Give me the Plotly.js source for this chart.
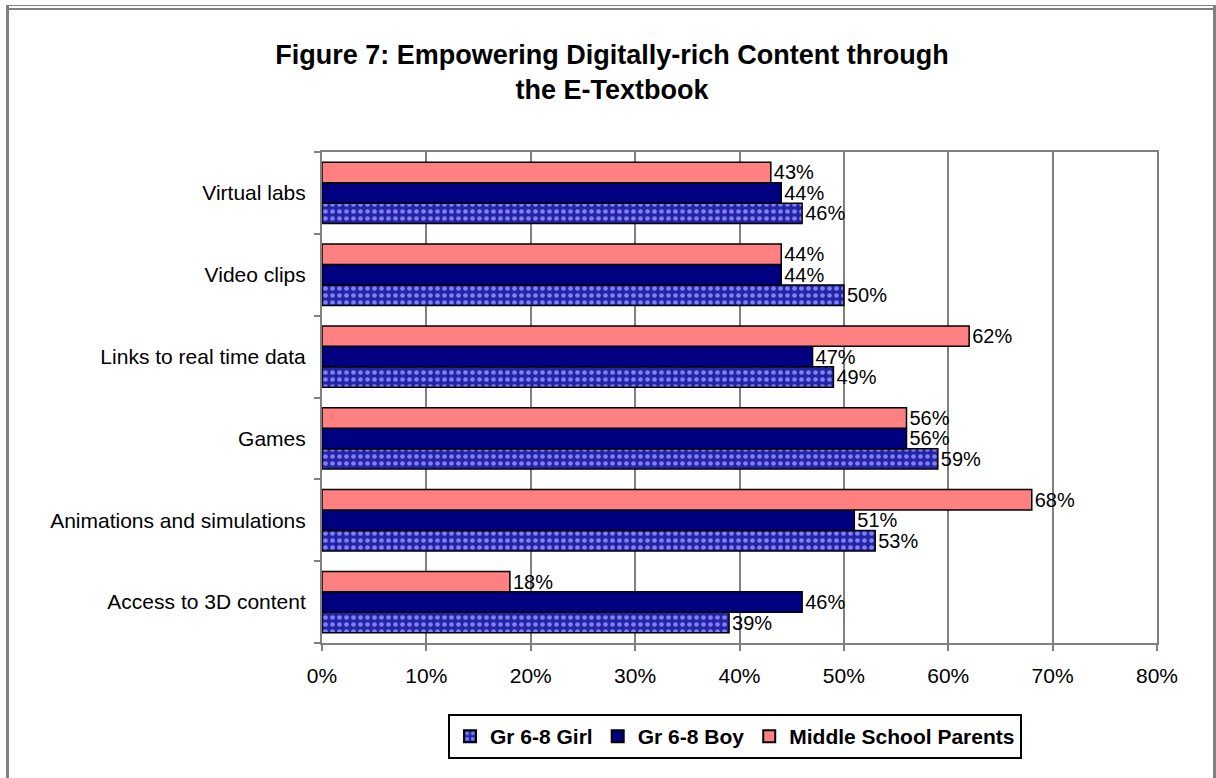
<!DOCTYPE html>
<html>
<head>
<meta charset="utf-8">
<script src="https://cdn.plot.ly/plotly-3.0.1.min.js"></script>
<style>
  html, body { margin: 0; padding: 0; background: #fff; }
  #wrap { position: relative; width: 1216px; height: 778px; }
  #chart { position: absolute; left: 0; top: 0; width: 1216px; height: 778px; }
  .b { position: absolute; background: #808080; pointer-events: none; }
</style>
</head>
<body>
<div id="wrap">
  <div id="chart"></div>
  <div class="b" style="left:6px; top:5px; width:1210px; height:1px;"></div>
  <div class="b" style="left:6px; top:8px; width:1210px; height:2px;"></div>
  <div class="b" style="left:6px; top:5px; width:3px; height:773px;"></div>
  <div class="b" style="left:1213px; top:5px; width:3px; height:773px;"></div>
</div>
<script>
const categories = ["Access to 3D content", "Animations and simulations", "Games", "Links to real time data", "Video clips", "Virtual labs"];
const girl = [39, 53, 59, 49, 50, 46];
const boy = [46, 51, 56, 47, 44, 44];
const parents = [18, 68, 56, 62, 44, 43];
const seriesNames = ["Gr 6-8 Girl", "Gr 6-8 Boy", "Middle School Parents"];
const xTicks = [0, 10, 20, 30, 40, 50, 60, 70, 80];

const FONT = "Liberation Sans, Arial, sans-serif";
const labelFont = {family: FONT, size: 20, color: "#000"};
function barTrace(name, vals, marker) {
  return {
    type: "bar", orientation: "h", name: name,
    y: categories, x: vals,
    marker: marker,
    text: vals.map(v => v + "%"),
    textposition: "outside",
    constraintext: "none",
    cliponaxis: false,
    textfont: labelFont,
    hoverinfo: "x+y"
  };
}

const data = [
  barTrace(seriesNames[0], girl, {
    color: "#2424a8",
    line: {color: "#000", width: 1.5},
    pattern: {shape: ".", bgcolor: "#2424a8", fgcolor: "#8080f0", size: 7, solidity: 0.35}
  }),
  barTrace(seriesNames[1], boy, {color: "#000080", line: {color: "#000", width: 1.5}}),
  barTrace(seriesNames[2], parents, {color: "#ff8080", line: {color: "#000", width: 1.5}})
];

const layout = {
  width: 1216, height: 778,
  paper_bgcolor: "rgba(0,0,0,0)", plot_bgcolor: "#fff",
  margin: {l: 322, r: 59, t: 152, b: 135},
  font: {family: FONT, color: "#000"},
  title: {
    text: "<b>Figure 7: Empowering Digitally-rich Content through<br>the E-Textbook</b>",
    font: {size: 27, family: FONT, color: "#000"},
    x: 612 / 1216, xref: "container", xanchor: "center",
    y: 1 - 64 / 778, yref: "container", yanchor: "top"
  },
  barmode: "group",
  bargap: 0.25, bargroupgap: 0,
  xaxis: {
    range: [0, 80], tickvals: xTicks, ticktext: xTicks.map(v => v + "%"),
    showgrid: true, gridcolor: "#808080", gridwidth: 2,
    showline: true, linecolor: "#808080", linewidth: 2, mirror: true,
    ticks: "outside", ticklen: 6, tickcolor: "#808080", tickwidth: 2,
    tickfont: {size: 21}, ticklabelstandoff: 7, zeroline: false, fixedrange: true
  },
  yaxis: {
    type: "category", categoryorder: "array", categoryarray: categories,
    showgrid: false,
    showline: true, linecolor: "#808080", linewidth: 2, mirror: true,
    ticks: "outside", tickson: "boundaries", ticklen: 6, tickcolor: "#808080", tickwidth: 2,
    tickfont: {size: 21}, ticklabelstandoff: 10, fixedrange: true
  },
  showlegend: true,
  legend: {
    orientation: "h", traceorder: "normal",
    x: 735 / 1216, xref: "container", xanchor: "center",
    y: 1 - 714 / 778, yref: "container", yanchor: "top",
    bordercolor: "#000", borderwidth: 2, bgcolor: "#fff",
    font: {size: 21, family: FONT, weight: "bold", color: "#000"},
    itemwidth: 30, itemsizing: "constant", tracegroupgap: 0
  }
};

Plotly.newPlot("chart", data, layout, {displayModeBar: false, staticPlot: true});
</script>
</body>
</html>
